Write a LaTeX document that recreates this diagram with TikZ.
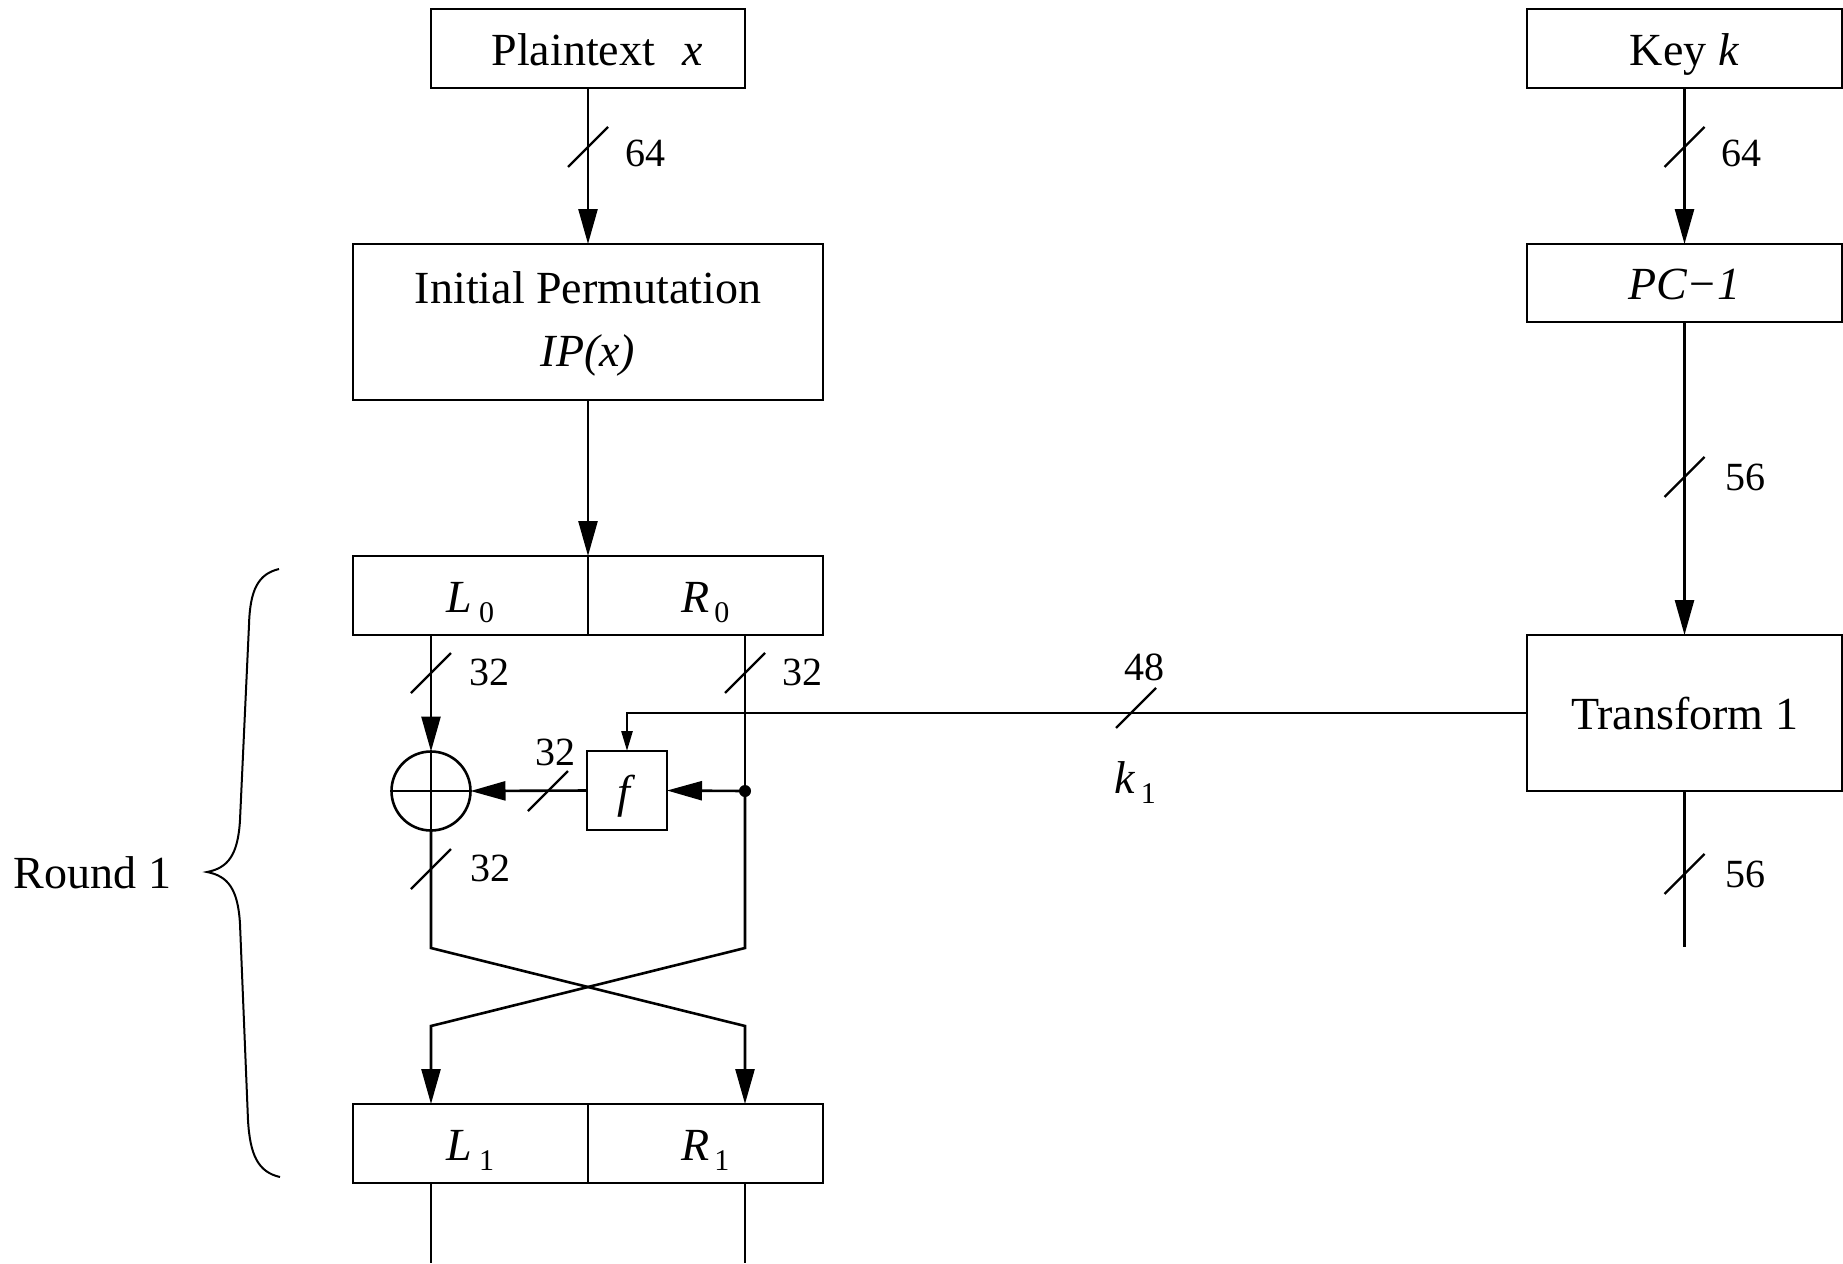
\documentclass[tikz,border=0pt]{standalone}
\usepackage{fontspec}
\setmainfont{Liberation Serif}
\usetikzlibrary{arrows.meta,calc}
\newcommand\subsc[1]{\raisebox{-10pt}{\fontsize{30}{32}\selectfont #1}}
\newcommand\slashat[1]{\draw[slashline] ($(#1)+(-20,20)$) -- ($(#1)+(20,-20)$);}
\begin{document}
\begin{tikzpicture}[x=1pt,y=-1pt,
  every node/.style={inner sep=0pt, outer sep=0pt},
  line/.style={line width=2.6pt},
  boxnode/.style={draw, line width=2.6pt, font=\fontsize{46}{55}\selectfont, text height=33pt, text depth=0pt},
  bigarrow/.style={-{Triangle[length=35pt,width=19pt]}},
  smallarrow/.style={-{Triangle[length=20pt,width=11pt]}},
  lbl/.style={font=\fontsize{40}{48}\selectfont, text height=27pt, text depth=0pt},
  slashline/.style={line width=2.4pt}
]
\useasboundingbox (0,0) rectangle (1843,1263);

% left column boxes
\node[boxnode, minimum width=314pt, minimum height=79pt] (pt) at (588,48.5) {\hspace{0.4em}Plaintext\hspace{0.6em}\textit{x}};
\node[draw, line width=2.6pt, minimum width=470pt, minimum height=156pt, align=center, font=\fontsize{46}{63}\selectfont] (ip) at (588,322) {\raisebox{-8pt}{\begin{tabular}{@{}c@{}}Initial Permutation\\\textit{IP(x)}\end{tabular}}};
\node[boxnode, minimum width=235pt, minimum height=79pt] (l0) at (470.5,595.5) {\textit{L}\hspace{0.15em}\subsc{0}};
\node[boxnode, minimum width=235pt, minimum height=79pt] (r0) at (705.5,595.5) {\textit{R}\hspace{0.1em}\subsc{0}};
\node[circle, draw, line width=2.6pt, minimum size=79pt] (xor) at (431,791) {};
\node[boxnode, minimum width=80pt, minimum height=79pt] (f) at (627,790.5) {\textit{f}};
\node[boxnode, minimum width=235pt, minimum height=79pt] (l1) at (470.5,1143.5) {\textit{L}\hspace{0.15em}\subsc{1}};
\node[boxnode, minimum width=235pt, minimum height=79pt] (r1) at (705.5,1143.5) {\textit{R}\hspace{0.1em}\subsc{1}};

% right column boxes
\node[boxnode, minimum width=315pt, minimum height=79pt] (key) at (1684.5,48.5) {Key \textit{k}};
\node[boxnode, minimum width=315pt, minimum height=78pt] (pc1) at (1684.5,283) {\textit{PC−1}};
\node[boxnode, minimum width=315pt, minimum height=156pt] (tr) at (1684.5,713) {Transform 1};

% Round label and brace
\node[font=\fontsize{46}{55}\selectfont, text height=33pt, text depth=0pt] (round) at (92.5,871.5) {Round 1};
\draw[line width=2pt] (279,569) .. controls (258,574) and (250,590) .. (249,625) -- (240,820) .. controls (238,855) and (228,868) .. (207,872) .. controls (228,876) and (238,889) .. (240,924) -- (248,1120) .. controls (250,1155) and (258,1172) .. (280,1177);

% coordinates
\coordinate (dot) at (745,791);
\coordinate (ca) at (745,948);
\coordinate (cb) at (431,1026);
\coordinate (cc) at (431,948);
\coordinate (cd) at (745,1026);
\coordinate (lend) at (431,1263);
\coordinate (rend) at (745,1263);
\coordinate (trend) at (1684.5,947);

% xor cross
\draw[line] (xor.north) -- (xor.south);
\draw[line] (xor.west) -- (xor.east);

% connectors
\draw[line, bigarrow] (pt) -- (ip);
\draw[line, bigarrow] (ip) -- (l0.north east);
\draw[line, bigarrow] (xor |- l0.south) -- (xor.north);
\draw[line] (dot |- r0.south) -- (dot);
\fill (dot) circle (6pt);
\draw[line, bigarrow] (dot) -- (f.east);
\draw[line, bigarrow] (f.west) -- (xor.east);
\draw[line, smallarrow] (tr.west) -- (f |- tr.west) -- (f.north);
\draw[line, bigarrow] (dot) -- (ca) -- (cb) -- (xor |- l1.north);
\draw[line, bigarrow] (xor.south) -- (cc) -- (cd) -- (dot |- r1.north);
\draw[line] (xor |- l1.south) -- (lend);
\draw[line] (dot |- r1.south) -- (rend);
\draw[line, bigarrow] (key) -- (pc1);
\draw[line, bigarrow] (pc1) -- (tr);
\draw[line] (tr) -- (trend);

% slashes
\coordinate (s1) at (588,147);
\coordinate (s2) at (1684.5,147);
\coordinate (s3) at (431,673);
\coordinate (s4) at (745,673);
\coordinate (s5) at (548,791);
\coordinate (s6) at (431,869);
\coordinate (s7) at (1684.5,477);
\coordinate (s8) at (1684.5,874);
\coordinate (s9) at (1136,708);
\slashat{s1}\slashat{s2}\slashat{s3}\slashat{s4}\slashat{s5}\slashat{s6}\slashat{s7}\slashat{s8}\slashat{s9}

% width labels
\node[lbl] (n1) at (645,153) {64};
\node[lbl] (n2) at (1741,153) {64};
\node[lbl] (n3) at (489,672) {32};
\node[lbl] (n4) at (802,672) {32};
\node[lbl] (n5) at (555,752) {32};
\node[lbl] (n6) at (490,868) {32};
\node[lbl] (n7) at (1745,477) {56};
\node[lbl] (n8) at (1745,874) {56};
\node[lbl] (n9) at (1144.5,667) {48};
\node[font=\fontsize{46}{55}\selectfont, text height=33pt, text depth=0pt] (k1) at (1135,777) {\textit{k}\hspace{0.12em}\subsc{1}};
\end{tikzpicture}
\end{document}
